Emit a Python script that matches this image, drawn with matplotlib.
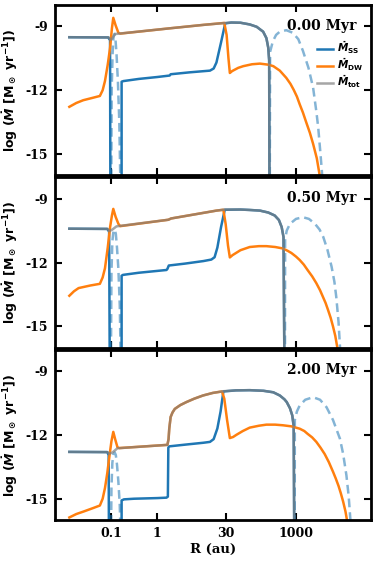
import numpy as np
import matplotlib
matplotlib.use("Agg")
import matplotlib.pyplot as plt
from matplotlib.ticker import FixedLocator, FixedFormatter

plt.rcParams["mathtext.fontset"] = "custom"
plt.rcParams["mathtext.rm"] = "DejaVu Sans:bold"
plt.rcParams["mathtext.it"] = "DejaVu Sans:bold:italic"
plt.rcParams["mathtext.bf"] = "DejaVu Sans:bold"

# data: (log10 R [au], log Mdot [Msun/yr])
# values of -20 mark a drop to zero (off the bottom of the axes)
times = ["0.00 Myr", "0.50 Myr", "2.00 Myr"]

ss_0 = [(-1.90, -9.51), (-1.06, -9.52), (-1.02, -9.65), (-1.01, -20), (-0.77, -20),
        (-0.77, -11.6), (-0.73, -11.57), (-0.4, -11.47), (0.0, -11.38), (0.27, -11.31),
        (0.29, -11.25), (0.7, -11.16), (1.14, -11.08), (1.22, -10.98), (1.28, -10.7),
        (1.38, -9.75), (1.47, -8.86), (1.6, -8.82), (1.8, -8.83), (2.0, -8.91),
        (2.15, -9.02), (2.29, -9.25), (2.36, -9.55), (2.40, -10.0), (2.42, -10.6), (2.43, -20)]
ssneg_0 = [(-1.00, -20), (-0.985, -12), (-0.965, -10.3), (-0.945, -9.45), (-0.925, -9.35),
           (-0.905, -9.55), (-0.88, -10.3), (-0.85, -11.6), (-0.82, -13.5), (-0.80, -16),
           (-0.79, -20), (2.43, -20), (2.44, -10.2), (2.50, -9.7), (2.57, -9.4),
           (2.65, -9.25), (2.79, -9.18), (2.93, -9.3), (3.05, -9.6), (3.15, -10.15),
           (3.27, -10.95), (3.37, -11.88), (3.44, -13.0), (3.48, -13.74), (3.53, -15.0),
           (3.57, -16.1)]
dw_0 = [(-1.90, -12.78), (-1.75, -12.6), (-1.60, -12.47), (-1.40, -12.36), (-1.24, -12.27),
        (-1.18, -12.0), (-1.13, -11.57), (-1.07, -10.8), (-1.02, -10.02), (-0.98, -9.1),
        (-0.95, -8.6), (-0.90, -8.95), (-0.84, -9.3), (-0.80, -9.34), (0.28, -9.09),
        (1.0, -8.93), (1.45, -8.84), (1.50, -9.4), (1.54, -10.5), (1.57, -11.19),
        (1.62, -11.1), (1.75, -10.95), (1.86, -10.87), (2.05, -10.78), (2.22, -10.75),
        (2.40, -10.8), (2.51, -10.87), (2.65, -11.08), (2.79, -11.42), (2.88, -11.7),
        (2.95, -11.98), (3.02, -12.3), (3.08, -12.66), (3.15, -13.05), (3.22, -13.5),
        (3.30, -14.0), (3.37, -14.52), (3.45, -15.2), (3.52, -16.1)]
tot_0 = [(-1.90, -9.51), (-1.05, -9.52), (-1.01, -9.62), (-0.97, -9.56), (-0.91, -9.36),
         (0.28, -9.09), (1.0, -8.93), (1.47, -8.84), (1.6, -8.82), (1.8, -8.83),
         (2.0, -8.91), (2.15, -9.02), (2.29, -9.25), (2.36, -9.55), (2.40, -10.0),
         (2.42, -10.6), (2.43, -20)]

ss_1 = [(-1.90, -10.41), (-1.08, -10.42), (-1.04, -10.55), (-1.02, -20), (-0.77, -20),
        (-0.77, -12.62), (-0.74, -12.58), (-0.4, -12.48), (0.20, -12.35), (0.22, -12.3),
        (0.25, -12.14), (0.6, -12.05), (1.0, -11.93), (1.17, -11.86), (1.24, -11.75),
        (1.30, -11.3), (1.38, -10.33), (1.46, -9.52), (1.8, -9.51), (2.0, -9.53),
        (2.22, -9.56), (2.40, -9.65), (2.54, -9.79), (2.63, -10.0), (2.69, -10.33),
        (2.73, -10.8), (2.76, -20)]
ssneg_1 = [(-1.01, -20), (-0.99, -12.5), (-0.97, -11.0), (-0.945, -10.5), (-0.92, -10.45),
           (-0.895, -10.65), (-0.87, -11.3), (-0.84, -12.3), (-0.81, -14.0), (-0.79, -16.5),
           (-0.785, -20), (2.76, -20), (2.765, -10.9), (2.80, -10.5), (2.87, -10.18),
           (3.0, -9.95), (3.15, -9.87), (3.28, -9.95), (3.41, -10.18), (3.51, -10.45),
           (3.59, -10.8), (3.68, -11.4), (3.77, -12.2), (3.83, -12.9), (3.87, -13.6),
           (3.92, -14.8), (3.955, -16.1)]
dw_1 = [(-1.90, -13.56), (-1.80, -13.35), (-1.70, -13.2), (-1.45, -13.08), (-1.24, -13.0),
        (-1.18, -12.7), (-1.13, -12.27), (-1.07, -11.3), (-1.02, -10.35), (-0.98, -9.8),
        (-0.95, -9.48), (-0.90, -9.85), (-0.84, -10.18), (-0.80, -10.29), (0.24, -9.99),
        (0.30, -9.93), (1.28, -9.56), (1.43, -9.52), (1.48, -10.2), (1.53, -11.2),
        (1.57, -11.76), (1.63, -11.65), (1.80, -11.42), (2.0, -11.27), (2.2, -11.23),
        (2.36, -11.23), (2.55, -11.27), (2.72, -11.34), (2.82, -11.45), (2.9, -11.55),
        (3.0, -11.72), (3.08, -11.88), (3.17, -12.1), (3.25, -12.35), (3.35, -12.65),
        (3.44, -12.97), (3.52, -13.3), (3.58, -13.6), (3.64, -13.9), (3.69, -14.21),
        (3.75, -14.6), (3.80, -15.0), (3.85, -15.45), (3.89, -15.95), (3.91, -16.2)]
tot_1 = [(-1.90, -10.41), (-1.08, -10.42), (-1.03, -10.52), (-0.97, -10.45), (-0.88, -10.30),
         (0.24, -9.99), (0.30, -9.93), (1.28, -9.56), (1.46, -9.51), (1.8, -9.51),
         (2.0, -9.53), (2.22, -9.56), (2.40, -9.65), (2.54, -9.79), (2.63, -10.0),
         (2.69, -10.33), (2.73, -10.8), (2.76, -20)]

ss_2 = [(-1.90, -12.80), (-1.08, -12.81), (-1.05, -12.95), (-1.04, -20), (-0.77, -20),
        (-0.77, -15.08), (-0.72, -15.03), (-0.5, -15.0), (0.0, -14.97), (0.20, -14.95),
        (0.23, -14.9), (0.24, -12.6), (0.26, -12.54), (0.6, -12.46), (1.0, -12.37),
        (1.14, -12.33), (1.22, -12.2), (1.30, -11.7), (1.37, -10.9), (1.43, -9.96),
        (1.7, -9.91), (2.0, -9.90), (2.3, -9.93), (2.51, -10.0), (2.65, -10.15),
        (2.75, -10.33), (2.80, -10.46), (2.87, -10.75), (2.92, -11.09), (2.95, -11.6),
        (2.97, -20)]
ssneg_2 = [(-1.01, -20), (-0.99, -14.5), (-0.97, -13.3), (-0.945, -12.9), (-0.92, -12.82),
           (-0.895, -12.95), (-0.87, -13.4), (-0.84, -14.2), (-0.81, -15.3), (-0.79, -17),
           (-0.785, -20), (2.97, -20), (2.975, -11.3), (3.02, -10.9), (3.08, -10.62),
           (3.2, -10.35), (3.37, -10.23), (3.52, -10.35), (3.66, -10.70), (3.80, -11.3),
           (3.95, -12.18), (4.02, -12.9), (4.09, -13.9), (4.14, -14.9), (4.18, -16.1)]
dw_2 = [(-1.90, -15.88), (-1.75, -15.72), (-1.59, -15.6), (-1.40, -15.45), (-1.24, -15.32),
        (-1.18, -15.0), (-1.13, -14.5), (-1.08, -13.8), (-1.04, -13.11), (-0.99, -12.3),
        (-0.95, -11.86), (-0.91, -12.2), (-0.86, -12.58), (-0.82, -12.62), (0.22, -12.47),
        (0.245, -12.2), (0.26, -11.71), (0.29, -11.16), (0.33, -10.95), (0.38, -10.78),
        (0.50, -10.6), (0.63, -10.46), (0.80, -10.30), (0.99, -10.15), (1.2, -10.03),
        (1.40, -9.96), (1.45, -10.3), (1.51, -11.3), (1.57, -12.15), (1.64, -12.1),
        (1.71, -12.0), (1.85, -11.82), (2.0, -11.66), (2.2, -11.57), (2.36, -11.52),
        (2.55, -11.52), (2.72, -11.55), (2.90, -11.6), (3.08, -11.71), (3.18, -11.82),
        (3.25, -11.95), (3.35, -12.12), (3.44, -12.33), (3.53, -12.6), (3.62, -12.9),
        (3.71, -13.28), (3.80, -13.73), (3.86, -14.05), (3.92, -14.4), (3.97, -14.75),
        (4.02, -15.14), (4.07, -15.6), (4.11, -16.1)]
tot_2 = [(-1.90, -12.80), (-1.08, -12.81), (-1.03, -12.88), (-0.97, -12.83), (-0.86, -12.63),
         (0.22, -12.47), (0.245, -12.2), (0.26, -11.71), (0.29, -11.16), (0.33, -10.95),
         (0.38, -10.78), (0.50, -10.6), (0.63, -10.46), (0.80, -10.30), (0.99, -10.15),
         (1.2, -10.03), (1.43, -9.95), (1.7, -9.91), (2.0, -9.90), (2.3, -9.93),
         (2.51, -10.0), (2.65, -10.15), (2.75, -10.33), (2.80, -10.46), (2.87, -10.75),
         (2.92, -11.09), (2.95, -11.6), (2.97, -20)]

xticks = [0.1, 1, 30, 1000]
xtick_labels = ["0.1", "1", "30", "1000"]
yticks = [-9, -12, -15]
ytick_labels = ["-9", "-12", "-15"]

panels = [(ss_0, ssneg_0, dw_0, tot_0),
          (ss_1, ssneg_1, dw_1, tot_1),
          (ss_2, ssneg_2, dw_2, tot_2)]

serif_bold = {"family": "DejaVu Serif", "weight": "bold"}


def xy(pts):
    a = np.array(pts)
    return 10 ** a[:, 0], a[:, 1]


fig, axes = plt.subplots(3, 1, figsize=(3.82, 5.64), dpi=100, sharex=True)
fig.subplots_adjust(left=0.144, right=0.971, top=0.991, bottom=0.078, hspace=0.012)

for i, ax in enumerate(axes):
    ss, ssneg, dw, tot = panels[i]
    ax.plot(*xy(ssneg), color="C0", alpha=0.55, lw=1.8, ls=(0, (3.5, 2)))
    ax.plot(*xy(ss), color="C0", lw=1.8, label=r"$\dot{M}_{\rm SS}$")
    ax.plot(*xy(dw), color="C1", lw=1.8, label=r"$\dot{M}_{\rm DW}$")
    ax.plot(*xy(tot), color="gray", alpha=0.7, lw=1.8, label=r"$\dot{M}_{\rm tot}$")

    ax.set_xscale("log")
    ax.set_xlim(10 ** -2.21, 10 ** 4.62)
    ax.set_ylim(-16, -8)
    ax.xaxis.set_major_locator(FixedLocator(xticks))
    ax.xaxis.set_major_formatter(FixedFormatter(xtick_labels))
    ax.xaxis.set_minor_locator(FixedLocator([]))
    ax.yaxis.set_major_locator(FixedLocator(yticks))
    ax.yaxis.set_major_formatter(FixedFormatter(ytick_labels))
    ax.tick_params(direction="in", top=True, right=True, length=5, width=1.5, pad=5)
    for lab in ax.get_xticklabels() + ax.get_yticklabels():
        lab.set_fontproperties(serif_bold)
        lab.set_fontsize(9)
    for sp in ax.spines.values():
        sp.set_linewidth(2)

    ax.set_ylabel(r"log ($\dot{M}$ [M$_\odot$ yr$^{-1}$])", fontsize=9,
                  fontweight="bold", labelpad=4)
    ax.text(0.955, 0.92, times[i], transform=ax.transAxes, ha="right", va="top",
            fontsize=10, **serif_bold)

axes[0].legend(loc="upper right", bbox_to_anchor=(1.0, 0.84), frameon=False,
               fontsize=7.5, handlelength=1.6, handletextpad=0.4, labelspacing=0.05,
               borderpad=0.2)
axes[2].set_xlabel("R (au)", fontsize=9.5, labelpad=2, **serif_bold)

fig.savefig("out.png", dpi=100)
